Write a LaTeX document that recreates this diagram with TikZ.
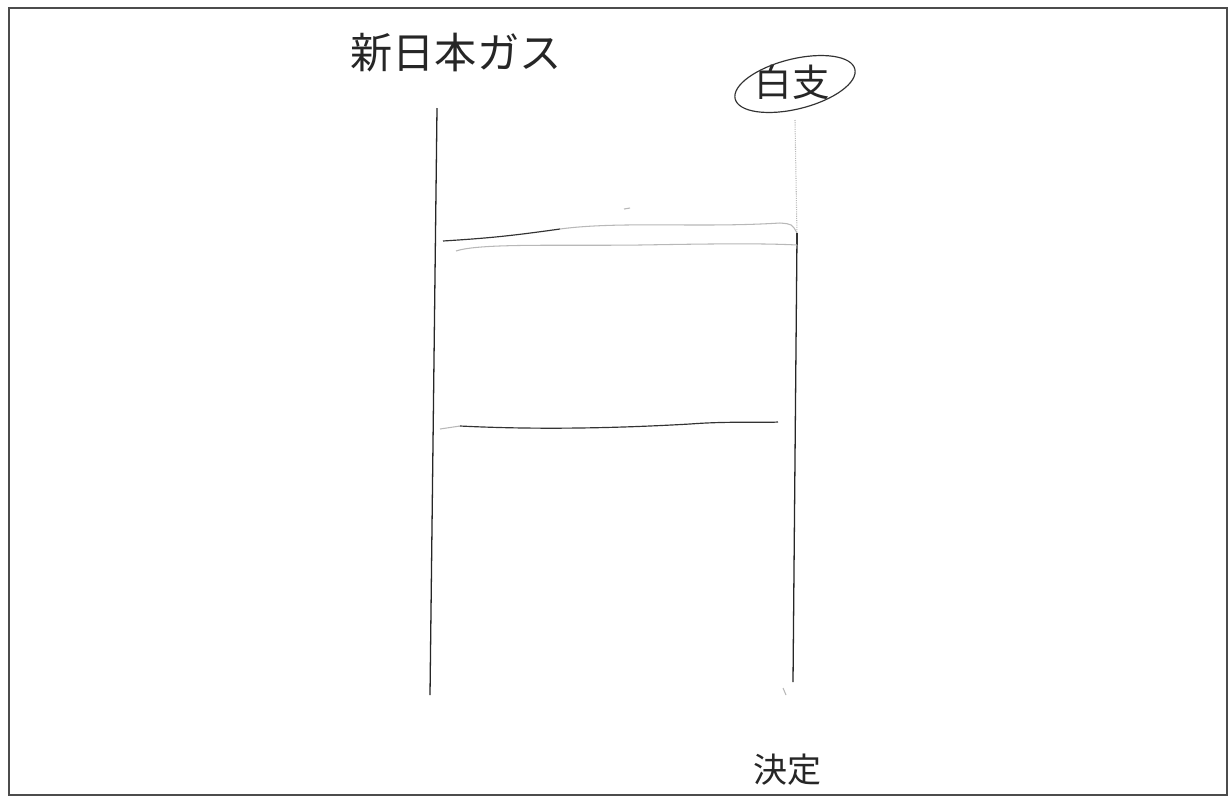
\documentclass[tikz,border=0pt]{standalone}
\usepackage{fontspec}
\newfontfamily\jpfont{Noto Sans CJK JP}
\usetikzlibrary{positioning,shapes.geometric}

\begin{document}
\begin{tikzpicture}[
     % define styles
     x=0.03cm, y=-0.03cm,
     frame/.style={
         draw=black!70,
         line width=1.1pt
     },
     pole/.style={
         draw=black!85,
         line width=1.1pt
     },
     rung/.style={
         draw=black!80,
         line width=1pt
     },
     faint/.style={
         draw=black!28,
         line width=0.9pt
     },
     hand/.style={
         font=\jpfont,
         text=black!85,
         inner sep=0pt
     },
     ring/.style={
         draw=black!80,
         ellipse,
         line width=1pt,
         minimum width=3.7cm,
         minimum height=1.5cm,
         rotate=14
     }
]
% page and frame
\useasboundingbox (0,0) rectangle (1231,798);
\fill[white] (0,0) rectangle (1231,798);
\draw[frame] (9,8) rectangle (1227,795);

% labels
\node[hand, font=\jpfont\fontsize{36}{36}\selectfont] (company) at (456,53) {新日本ガス};
\node[hand, font=\jpfont\fontsize{32}{32}\selectfont] (blank) at (792,82) {白支};
\node[ring] (blankring) at (795,84) {};
\node[hand, font=\jpfont\fontsize{29}{29}\selectfont] (decision) at (787,770) {決定};

% ends of the two poles
\coordinate (ltop) at (437,108);
\coordinate (lbot) at (430,695);
\coordinate (rtop) at (795,120);
\coordinate (rmid) at (797,236);
\coordinate (rbot) at (793,682);

% poles
\draw[pole] (ltop) -- (lbot);
\draw[faint, densely dotted] (rtop) -- (rmid);
\draw[pole] (rmid) -- (rbot);
\draw[faint] (783,688) -- (786,695);

% first rung, drawn twice
\coordinate (r1a) at (443,241);
\coordinate (r1b) at (797,233);
\coordinate (r1c) at (456,251);
\coordinate (r1d) at (797,245);
\draw[rung] (r1a) .. controls (490,238) and (510,236) .. (560,229);
\draw[faint] (560,229) .. controls (620,221) and (700,228) .. (780,223)
    .. controls (792,224) .. (r1b);
\draw[rung] (r1b) -- (r1d);
\draw[faint] (r1c) .. controls (480,243) and (560,246) .. (640,245)
    .. controls (700,244) and (760,243) .. (r1d);
\draw[faint] (624,209) -- (630,208);

% second rung
\coordinate (r2a) at (440,429);
\coordinate (r2b) at (778,422);
\draw[faint] (r2a) -- (460,426);
\draw[rung] (460,426) .. controls (540,430) and (620,428) .. (690,424)
    .. controls (730,421) and (760,423) .. (r2b);
\end{tikzpicture}
\end{document}
